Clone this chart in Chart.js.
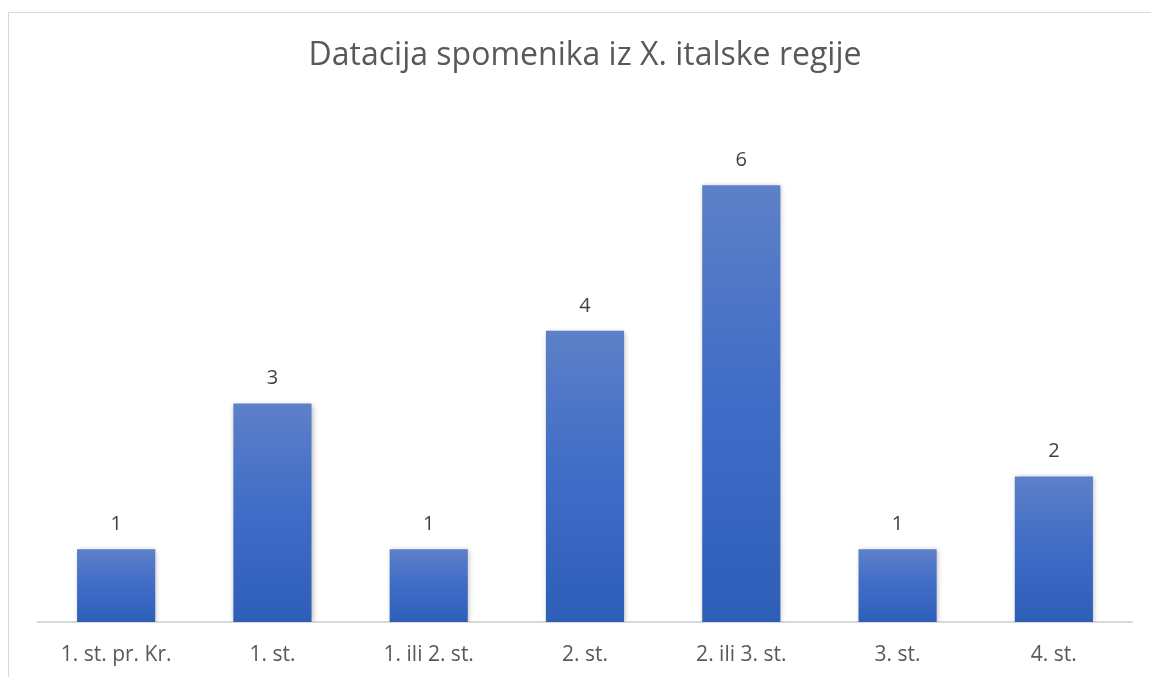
<!DOCTYPE html>
<html>
<head>
<meta charset="utf-8">
<script src="https://cdn.jsdelivr.net/npm/chart.js@4.4.0/dist/chart.umd.min.js"></script>
<style>
  html, body { margin: 0; padding: 0; background: #ffffff; overflow: hidden; }
  #frame { position: absolute; left: 8px; top: 12px; width: 1160px; height: 690px; border: 1.5px solid #d9d9d9; box-sizing: border-box; }
  #wrap { position: absolute; left: 0; top: 0; width: 1151px; height: 677px; }
</style>
</head>
<body>
<div id="frame"></div>
<div id="wrap"><canvas id="c" width="1151" height="677"></canvas></div>
<script>
const chartTitle = "Datacija spomenika iz X. italske regije";
const categories = ["1. st. pr. Kr.", "1. st.", "1. ili 2. st.", "2. st.", "2. ili 3. st.", "3. st.", "4. st."];
const counts = [1, 3, 1, 4, 6, 1, 2];
const axisMax = 7;

const FONT = "'Open Sans', sans-serif";

const valueLabels = {
  id: 'valueLabels',
  afterDatasetsDraw(chart) {
    const ctx = chart.ctx;
    const meta = chart.getDatasetMeta(0);
    ctx.save();
    ctx.font = "20px " + FONT;
    ctx.fillStyle = "#404040";
    ctx.textAlign = "center";
    ctx.textBaseline = "middle";
    meta.data.forEach((el, i) => {
      ctx.fillText(String(counts[i]), el.x, el.y - 25);
    });
    ctx.restore();
  }
};

const barShadow = {
  id: 'barShadow',
  beforeDatasetsDraw(chart) {
    const ctx = chart.ctx;
    ctx.save();
    ctx.shadowColor = "rgba(0,0,0,0.28)";
    ctx.shadowBlur = 5;
    ctx.shadowOffsetX = 1;
    ctx.shadowOffsetY = 1;
  },
  afterDatasetsDraw(chart) {
    chart.ctx.restore();
  }
};

function barGradient(c) {
  const chart = c.chart;
  const y = chart.scales && chart.scales.y;
  if (!y || !chart.chartArea) return "#4472c4";
  const top = y.getPixelForValue(c.raw);
  const base = y.getPixelForValue(0);
  if (!isFinite(top) || !isFinite(base) || top === base) return "#4472c4";
  const g = chart.ctx.createLinearGradient(0, top, 0, base);
  g.addColorStop(0, "#5d80c8");
  g.addColorStop(0.5, "#3f6cc6");
  g.addColorStop(1, "#2e5eb8");
  return g;
}

new Chart(document.getElementById('c'), {
  type: 'bar',
  data: {
    labels: categories,
    datasets: [{
      data: counts,
      backgroundColor: barGradient,
      borderWidth: 0,
      barPercentage: 0.5,
      categoryPercentage: 1.0
    }]
  },
  options: {
    responsive: false,
    animation: false,
    layout: { padding: { left: 38, right: 19, top: 0, bottom: -11 } },
    plugins: {
      legend: { display: false },
      tooltip: { enabled: false },
      title: {
        display: true,
        text: chartTitle,
        color: "#595959",
        font: { family: FONT, size: 32, weight: 'normal' },
        padding: { top: 37, bottom: 37 }
      }
    },
    scales: {
      x: {
        grid: { display: false, drawTicks: false },
        border: { display: true, color: "#d9d9d9", width: 2 },
        ticks: { color: "#595959", font: { family: FONT, size: 21 }, padding: 20.4 }
      },
      y: {
        display: false,
        min: 0,
        max: axisMax
      }
    }
  },
  plugins: [barShadow, valueLabels]
});
</script>
</body>
</html>
